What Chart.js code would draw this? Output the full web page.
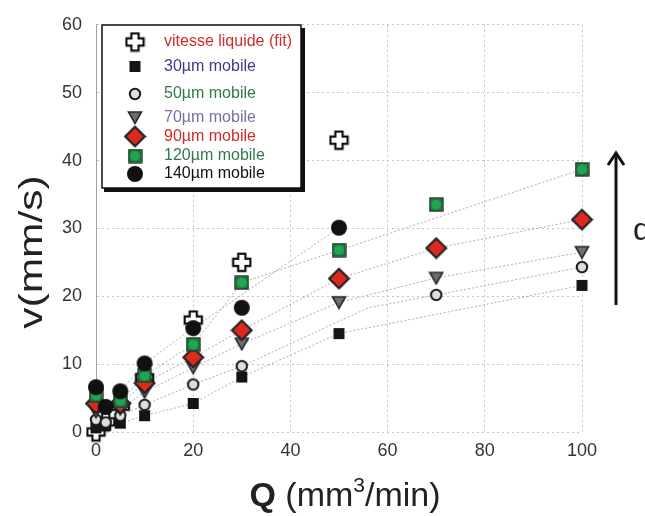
<!DOCTYPE html>
<html>
<head>
<meta charset="utf-8">
<script src="https://cdn.jsdelivr.net/npm/chart.js@4.4.1/dist/chart.umd.min.js"></script>
<style>
    html, body { margin: 0; padding: 0; background: #fff; }
</style>
</head>
<body>
<canvas id="qvChart" width="645" height="516"></canvas>
<script>
// valeurs : Q (mm3/min) -> v (mm/s)
var qFit = [0, 2, 5, 10, 20, 30, 50];
var vFit = [0, 1.5, 3.8, 8.0, 16.5, 25.0, 43.0];

var q30 = [0, 2, 5, 10, 20, 30, 50, 100];
var v30 = [0.6, 1.0, 1.3, 2.4, 4.2, 8.1, 14.5, 21.6];

var q50 = [0, 2, 5, 10, 20, 30, 70, 100];
var v50 = [1.8, 1.4, 2.4, 4.0, 7.0, 9.7, 20.2, 24.3];

var q70 = [0, 5, 10, 20, 30, 50, 70, 100];
var v70 = [3.0, 3.4, 5.9, 9.5, 13.0, 19.1, 22.7, 26.5];

var q90 = [0, 5, 10, 20, 30, 50, 70, 100];
var v90 = [4.2, 4.2, 7.2, 11.0, 15.0, 22.6, 27.1, 31.3];

var q120 = [0, 5, 10, 20, 30, 50, 70, 100];
var v120 = [5.4, 4.6, 8.3, 12.9, 22.0, 26.8, 33.5, 38.7];

var q140 = [0, 2, 5, 10, 20, 30, 50];
var v140 = [6.6, 3.7, 6.0, 10.1, 15.3, 18.3, 30.1];

// lignes pointillées (tendances) : sommets
var t30q = [5, 10, 20, 30, 50, 100];
var t30v = [1.3, 2.4, 4.2, 8.1, 14.5, 21.6];
var t50q = [5, 10, 20, 30, 56, 70, 100];
var t50v = [2.4, 4.0, 7.0, 9.7, 18.3, 20.2, 24.3];
var t70q = [5, 10, 20, 30, 50, 70, 100];
var t70v = [3.4, 5.9, 9.5, 13.0, 19.1, 22.7, 26.5];
var t90q = [5, 10, 20, 30, 50, 70, 100];
var t90v = [4.2, 7.2, 11.0, 15.0, 22.6, 27.1, 31.3];
var t120q = [5, 10, 20, 30, 50, 100];
var t120v = [4.6, 8.3, 12.9, 22.0, 26.8, 38.7];
var t140q = [5, 10, 20, 50];
var t140v = [6.0, 10.1, 15.3, 30.1];

var yTicks = [0, 10, 20, 30, 40, 50, 60];
var xTicks = [0, 20, 40, 60, 80, 100];

var fontFamily = "'Liberation Sans', Arial, sans-serif";
var legendColors = ["#d22b2b", "#3b3b8e", "#2f7a4a", "#7d6d9e", "#d22b2b", "#2f7a4a", "#111111"];

function toXY(q, v) {
    return q.map(function (x, i) {
        return { x: x, y: v[i] };
    });
}

function makeMarker(w, h, draw) {
    var c = document.createElement("canvas");
    c.width = w;
    c.height = h;
    draw(c.getContext("2d"), w, h);
    return c;
}

var mkCross = makeMarker(21, 21, function (ctx) {
    var c = 10.5, a = 3.6, L = 8.6;
    ctx.beginPath();
    ctx.moveTo(c - a, c - L); ctx.lineTo(c + a, c - L); ctx.lineTo(c + a, c - a);
    ctx.lineTo(c + L, c - a); ctx.lineTo(c + L, c + a); ctx.lineTo(c + a, c + a);
    ctx.lineTo(c + a, c + L); ctx.lineTo(c - a, c + L); ctx.lineTo(c - a, c + a);
    ctx.lineTo(c - L, c + a); ctx.lineTo(c - L, c - a); ctx.lineTo(c - a, c - a);
    ctx.closePath();
    ctx.fillStyle = "#fff";
    ctx.fill();
    ctx.lineWidth = 2.2;
    ctx.strokeStyle = "#111";
    ctx.stroke();
});
var mkSquare = makeMarker(13, 13, function (ctx) {
    ctx.fillStyle = "#151515";
    ctx.fillRect(1, 1, 11, 11);
});
var mkCircle = makeMarker(14, 14, function (ctx) {
    ctx.beginPath();
    ctx.arc(7, 7, 5.2, 0, Math.PI * 2);
    ctx.fillStyle = "#dedede";
    ctx.fill();
    ctx.lineWidth = 2;
    ctx.strokeStyle = "#1a1a1a";
    ctx.stroke();
});
var mkTriangle = makeMarker(16, 15, function (ctx) {
    ctx.beginPath();
    ctx.moveTo(1.5, 2);
    ctx.lineTo(14.5, 2);
    ctx.lineTo(8, 13.5);
    ctx.closePath();
    ctx.fillStyle = "#6e6e6e";
    ctx.fill();
    ctx.lineWidth = 1.6;
    ctx.strokeStyle = "#2a2a2a";
    ctx.stroke();
});
var mkDiamond = makeMarker(23, 23, function (ctx) {
    var c = 11.5, r = 9.8;
    ctx.beginPath();
    ctx.moveTo(c, c - r); ctx.lineTo(c + r, c); ctx.lineTo(c, c + r); ctx.lineTo(c - r, c);
    ctx.closePath();
    ctx.fillStyle = "#dd2a1f";
    ctx.fill();
    ctx.lineWidth = 2.2;
    ctx.strokeStyle = "#222";
    ctx.stroke();
});
var mkGreen = makeMarker(15, 15, function (ctx) {
    ctx.fillStyle = "#1b7a40";
    ctx.fillRect(1, 1, 13, 13);
    ctx.lineWidth = 1.4;
    ctx.strokeStyle = "#263b2c";
    ctx.strokeRect(1, 1, 13, 13);
    ctx.beginPath();
    ctx.arc(7.5, 7.5, 5, 0, Math.PI * 2);
    ctx.fillStyle = "#22a550";
    ctx.fill();
});
var mkBlack = makeMarker(18, 18, function (ctx) {
    ctx.beginPath();
    ctx.arc(9, 9, 8, 0, Math.PI * 2);
    ctx.fillStyle = "#111";
    ctx.fill();
});

function pointSet(label, q, v, marker, order) {
    return {
        label: label,
        data: toXY(q, v),
        pointStyle: marker,
        showLine: false,
        clip: false,
        order: order,
    };
}

function trendSet(q, v) {
    return {
        label: "",
        data: toXY(q, v),
        showLine: true,
        pointRadius: 0,
        borderColor: "#999",
        borderWidth: 0.8,
        borderDash: [2, 2],
        clip: false,
        order: 20,
    };
}

// légende dessinée dans la zone du graphique
var boxLegend = {
    id: "boxLegend",
    afterDraw: function (chart) {
        var ctx = chart.ctx;
        var rows = [42, 66.5, 94, 117.5, 136.5, 156, 174];
        ctx.save();
        ctx.fillStyle = "#111";
        ctx.fillRect(104, 28, 201, 164);
        ctx.fillStyle = "#fff";
        ctx.fillRect(102, 25, 199, 163);
        ctx.lineWidth = 1.5;
        ctx.strokeStyle = "#111";
        ctx.strokeRect(102, 25, 199, 163);
        ctx.font = "16px " + fontFamily;
        ctx.textBaseline = "middle";
        for (var i = 0; i < 7; i++) {
            var ds = chart.data.datasets[i];
            var img = ds.pointStyle;
            ctx.drawImage(img, 135 - img.width / 2, rows[i] - img.height / 2);
            ctx.fillStyle = legendColors[i];
            ctx.fillText(ds.label, 164, rows[i]);
        }
        ctx.restore();
    },
};

// titres des axes, flèche et lettre à droite
var decorations = {
    id: "decorations",
    afterDraw: function (chart) {
        var ctx = chart.ctx;
        ctx.save();
        ctx.fillStyle = "#222";

        // titre y
        ctx.save();
        ctx.translate(42, 252);
        ctx.rotate(-Math.PI / 2);
        ctx.scale(1.25, 1);
        ctx.font = "34px " + fontFamily;
        ctx.textAlign = "center";
        ctx.textBaseline = "alphabetic";
        ctx.fillText("v(mm/s)", 0, 0);
        ctx.restore();

        // titre x : Q (mm3/min)
        var base = 506;
        var parts = [
            { t: "Q", f: "bold 34px " + fontFamily, dy: 0 },
            { t: " (mm", f: "34px " + fontFamily, dy: 0 },
            { t: "3", f: "21px " + fontFamily, dy: -14 },
            { t: "/min)", f: "34px " + fontFamily, dy: 0 },
        ];
        var total = 0;
        parts.forEach(function (p) {
            ctx.font = p.f;
            p.w = ctx.measureText(p.t).width;
            total += p.w;
        });
        var x = 345 - total / 2;
        ctx.textBaseline = "alphabetic";
        parts.forEach(function (p) {
            ctx.font = p.f;
            ctx.fillText(p.t, x, base + p.dy);
            x += p.w;
        });

        // flèche
        ctx.strokeStyle = "#111";
        ctx.lineWidth = 3;
        ctx.beginPath();
        ctx.moveTo(616, 305);
        ctx.lineTo(616, 153);
        ctx.stroke();
        ctx.beginPath();
        ctx.moveTo(608, 165);
        ctx.lineTo(616, 153);
        ctx.lineTo(624, 165);
        ctx.stroke();

        ctx.font = "32px " + fontFamily;
        ctx.fillStyle = "#222";
        ctx.fillText("d", 633, 240);
        ctx.restore();
    },
};

var qvChart = new Chart("qvChart", {
    type: "scatter",
    data: {
        datasets: [
            pointSet("vitesse liquide (fit)", qFit, vFit, mkCross, 9),
            pointSet("30µm mobile", q30, v30, mkSquare, 8),
            pointSet("50µm mobile", q50, v50, mkCircle, 7),
            pointSet("70µm mobile", q70, v70, mkTriangle, 6),
            pointSet("90µm mobile", q90, v90, mkDiamond, 5),
            pointSet("120µm mobile", q120, v120, mkGreen, 4),
            pointSet("140µm mobile", q140, v140, mkBlack, 3),
            trendSet(t30q, t30v),
            trendSet(t50q, t50v),
            trendSet(t70q, t70v),
            trendSet(t90q, t90v),
            trendSet(t120q, t120v),
            trendSet(t140q, t140v),
        ],
    },
    options: {
        responsive: false,
        animation: false,
        layout: {
            padding: { top: 22, right: 63, left: 0, bottom: 0 },
        },
        scales: {
            x: {
                type: "linear",
                min: 0,
                max: 100,
                afterBuildTicks: function (scale) {
                    scale.ticks = xTicks.map(function (v) { return { value: v }; });
                },
                afterFit: function (scale) {
                    scale.height = 84;
                },
                ticks: {
                    color: "#333",
                    padding: 8,
                    maxRotation: 0,
                    font: { family: fontFamily, size: 18 },
                },
                grid: {
                    color: "#c2c2cc",
                    lineWidth: 1,
                    drawTicks: false,
                },
                border: { display: false, dash: [2, 3] },
            },
            y: {
                min: 0,
                max: 60,
                afterBuildTicks: function (scale) {
                    scale.ticks = yTicks.map(function (v) { return { value: v }; });
                },
                afterFit: function (scale) {
                    scale.width = 96;
                },
                ticks: {
                    color: "#333",
                    padding: 14,
                    font: { family: fontFamily, size: 18 },
                },
                grid: {
                    color: "#c2c2cc",
                    lineWidth: 1,
                    drawTicks: false,
                },
                border: { display: true, color: "#a0a0aa", width: 1, dash: [2, 3] },
            },
        },
        plugins: {
            legend: { display: false },
            tooltip: { enabled: false },
        },
    },
    plugins: [boxLegend, decorations],
});
</script>
</body>
</html>
